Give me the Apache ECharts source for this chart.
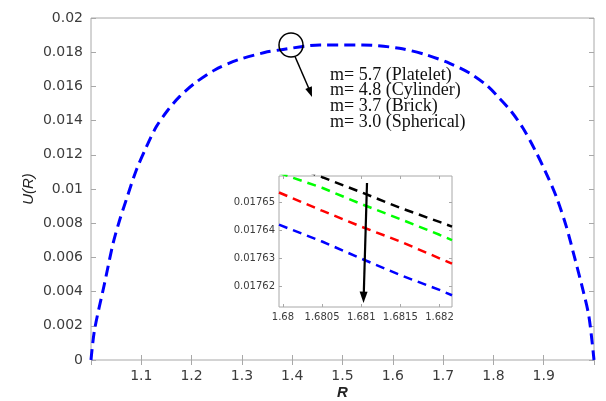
<!DOCTYPE html>
<html>
<head>
<meta charset="utf-8">
<script src="https://cdn.jsdelivr.net/npm/echarts@6/dist/echarts.min.js"></script>
<style>html,body{margin:0;padding:0;background:#fff}#c{width:606px;height:401px}</style>
</head>
<body>
<div id="c"></div>
<script>
// Main curve U(R) (all four shape factors overlap at this scale)
const mainR = [1.000,1.007,1.027,1.044,1.057,1.070,1.090,1.110,1.130,1.153,1.176,1.206,1.246,1.292,1.345,1.375,1.455,1.540,1.613,1.667,1.713,1.753,1.786,1.812,1.836,1.859,1.882,1.905,1.925,1.945,1.961,1.978,1.990,2.000];
const mainU = [0,0.00175,0.00449,0.00683,0.00819,0.00936,0.01110,0.01245,0.01365,0.01462,0.0154,0.01618,0.01696,0.01755,0.01798,0.01813,0.01842,0.01842,0.01823,0.01784,0.01735,0.01677,0.01608,0.01531,0.01452,0.01355,0.01232,0.01092,0.00955,0.0078,0.00604,0.0041,0.00253,0];

// Inset (zoom near R = 1.681)
const insetR = [1.67995,1.6805,1.681,1.6815,1.682,1.68216];
const insetPlatelet  = [0.0176650,0.0176590,0.0176536,0.0176480,0.0176430,0.0176413];
const insetCylinder  = [0.0176605,0.0176552,0.0176494,0.0176440,0.0176384,0.0176365];
const insetBrick     = [0.0176535,0.0176470,0.0176413,0.0176360,0.0176300,0.0176281];
const insetSpherical = [0.0176420,0.0176360,0.0176299,0.0176240,0.0176187,0.0176168];

const insetXTicks = [1.68,1.6805,1.681,1.6815,1.682];
const insetYTicks = [0.01762,0.01763,0.01764,0.01765];
const legendLines = ['m= 5.7 (Platelet)','m= 4.8 (Cylinder)','m= 3.7 (Brick)','m= 3.0 (Spherical)'];

const pair = (xs, ys) => xs.map((x, i) => [x, ys[i]]);
const axisGray = '#a8a8a8';
const labelColor = '#3c3c3c';
const tickFont = 'DejaVu Sans';

const chart = echarts.init(document.getElementById('c'), null, {renderer: 'canvas'});
const insetMin = {x: 1.67995, y: 0.0176126};
const insetMax = {x: 1.68216, y: 0.0176594};

function insetSeries(data, color) {
  return {type: 'line', xAxisIndex: 2, yAxisIndex: 2, data: data, symbol: 'none', clip: true,
    lineStyle: {color: color, width: 2.5, type: [9, 6]}, z: 5, silent: true};
}

chart.setOption({
  animation: false,
  backgroundColor: '#fff',
  grid: [
    {left: 91, top: 18, right: 12, bottom: 41, outerBoundsMode: 'none', containLabel: false, show: true, borderColor: axisGray, borderWidth: 1},
    {left: 279, top: 176, width: 173, height: 131, outerBoundsMode: 'none', containLabel: false, show: true, borderColor: axisGray, borderWidth: 1, backgroundColor: '#fff', z: 4}
  ],
  xAxis: [
    {type: 'value', gridIndex: 0, min: 1, max: 2, interval: 0.1, name: 'R', nameLocation: 'middle', nameGap: 25, nameMoveOverlap: false,
      nameTextStyle: {fontFamily: 'Liberation Sans', fontWeight: 'bold', fontStyle: 'italic', fontSize: 15, color: '#222'},
      axisLine: {show: false}, splitLine: {show: false},
      axisTick: {inside: true, length: 5, lineStyle: {color: axisGray}},
      axisLabel: {showMinLabel: false, showMaxLabel: false, margin: 9, fontFamily: tickFont, fontSize: 14, color: labelColor,
        formatter: v => String(+v.toFixed(2))}},
    {type: 'value', gridIndex: 0, position: 'top', min: 1, max: 2, interval: 0.1,
      axisLine: {show: false}, splitLine: {show: false}, axisLabel: {show: false},
      axisTick: {inside: true, length: 5, lineStyle: {color: axisGray}}},
    {type: 'value', gridIndex: 1, min: insetMin.x, max: insetMax.x, z: 5,
      axisLine: {show: false}, splitLine: {show: false},
      axisTick: {inside: true, length: 3, customValues: insetXTicks, lineStyle: {color: axisGray}},
      axisLabel: {customValues: insetXTicks, margin: 5, fontFamily: tickFont, fontSize: 10, color: labelColor,
        formatter: v => String(+v.toFixed(4))}},
    {type: 'value', gridIndex: 1, position: 'top', min: insetMin.x, max: insetMax.x, z: 5,
      axisLine: {show: false}, splitLine: {show: false}, axisLabel: {show: false},
      axisTick: {inside: true, length: 3, customValues: insetXTicks, lineStyle: {color: axisGray}}}
  ],
  yAxis: [
    {type: 'value', gridIndex: 0, min: 0, max: 0.02, interval: 0.002, name: 'U(R)', nameLocation: 'middle', nameGap: 55, nameMoveOverlap: false,
      nameTextStyle: {fontFamily: 'Liberation Sans', fontStyle: 'italic', fontSize: 15, color: '#222'},
      axisLine: {show: false}, splitLine: {show: false},
      axisTick: {inside: true, length: 5, lineStyle: {color: axisGray}},
      axisLabel: {margin: 8, fontFamily: tickFont, fontSize: 14, color: labelColor,
        formatter: v => String(+v.toFixed(3))}},
    {type: 'value', gridIndex: 0, position: 'right', min: 0, max: 0.02, interval: 0.002,
      axisLine: {show: false}, splitLine: {show: false}, axisLabel: {show: false},
      axisTick: {inside: true, length: 5, lineStyle: {color: axisGray}}},
    {type: 'value', gridIndex: 1, min: insetMin.y, max: insetMax.y, z: 5,
      axisLine: {show: false}, splitLine: {show: false},
      axisTick: {inside: true, length: 3, customValues: insetYTicks, lineStyle: {color: axisGray}},
      axisLabel: {customValues: insetYTicks, margin: 4, fontFamily: tickFont, fontSize: 10, color: labelColor,
        formatter: v => v.toFixed(5)}},
    {type: 'value', gridIndex: 1, position: 'right', min: insetMin.y, max: insetMax.y, z: 5,
      axisLine: {show: false}, splitLine: {show: false}, axisLabel: {show: false},
      axisTick: {inside: true, length: 3, customValues: insetYTicks, lineStyle: {color: axisGray}}}
  ],
  series: [
    {type: 'line', xAxisIndex: 0, yAxisIndex: 0, data: pair(mainR, mainU), symbol: 'none',
      smooth: 0.3, lineStyle: {color: '#0000ff', width: 3, type: [11, 6]}, z: 2, silent: true},
    insetSeries(pair(insetR, insetPlatelet), '#000000'),
    insetSeries(pair(insetR, insetCylinder), '#00ff00'),
    insetSeries(pair(insetR, insetBrick), '#ff0000'),
    insetSeries(pair(insetR, insetSpherical), '#0000ff')
  ],
  graphic: [
    {type: 'circle', shape: {cx: 291, cy: 45, r: 12}, style: {fill: 'none', stroke: '#000', lineWidth: 1.5}, z: 10},
    {type: 'line', shape: {x1: 295, y1: 56.5, x2: 309.5, y2: 90}, style: {stroke: '#000', lineWidth: 1.5}, z: 10},
    {type: 'polygon', shape: {points: [[312, 97], [305.3, 89], [311.9, 86.3]]}, style: {fill: '#000'}, z: 10},
    {type: 'text', x: 330, y: 67, z: 10,
      style: {text: legendLines.join('\n'), font: '18px "Liberation Serif"', fill: '#111', lineHeight: 15.8, verticalAlign: 'top'}},
    {type: 'line', shape: {x1: 367, y1: 183, x2: 363.8, y2: 293}, style: {stroke: '#000', lineWidth: 2.2}, z: 10},
    {type: 'polygon', shape: {points: [[363.5, 303], [359.6, 291.5], [367.6, 291.7]]}, style: {fill: '#000'}, z: 10}
  ]
});
</script>
</body>
</html>
